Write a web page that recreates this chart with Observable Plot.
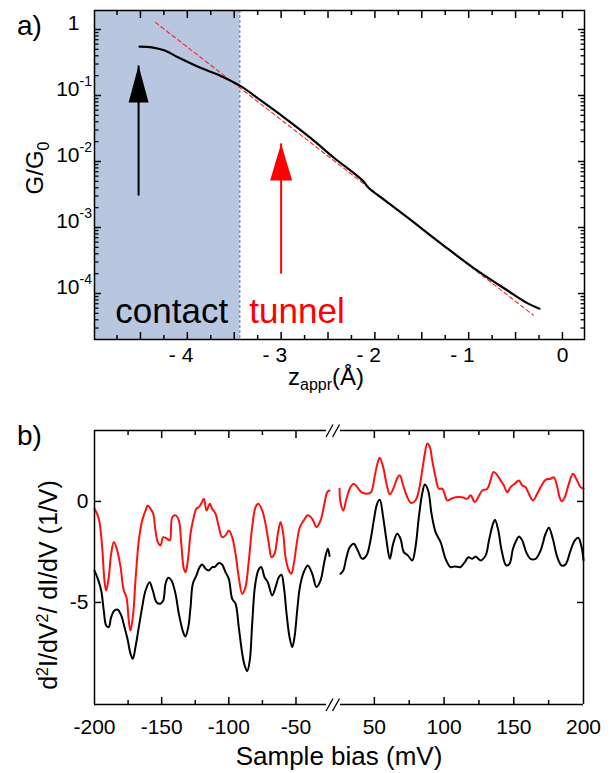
<!DOCTYPE html>
<html><head><meta charset="utf-8">
<script src="https://cdn.jsdelivr.net/npm/d3@7"></script>
<script src="https://cdn.jsdelivr.net/npm/@observablehq/plot@0.6"></script>
<style>
body{margin:0;background:#fff;}
#wrap{position:relative;width:613px;height:773px;overflow:hidden;}
#wrap svg{display:block;}
</style></head><body><div id="wrap"></div>
<script>
// ---------------- Panel a data ----------------
const zCurve = [-4.51,-4.38,-4.24,-4.10,-3.86,-3.65,-3.44,-3.21,-2.97,-2.68,-2.44,-2.13,-2.06,-1.90,-1.65,-1.27,-0.95,-0.59,-0.37,-0.245];
const gCurve = [0.55,0.537,0.48,0.38,0.263,0.20,0.141,0.083,0.0468,0.0224,0.0115,0.00513,0.00389,0.00263,0.00141,5.37e-4,2.45e-4,1.12e-4,7.08e-5,5.89e-5];
const zFit = [-4.34, -0.31];
const gFit = [1.28, 4.7e-5];
const zContactEdge = -3.44;
const zArrowBlack = -4.52, gArrowBlack = [0.00305, 0.285];
const zArrowRed = -3.0, gArrowRed = [2.0e-4, 0.0188];
const regionLabels = ["contact", "tunnel"];
const regionLabelZ = [-4.768, -3.339];
const regionLabelG = 5.2e-5;
const zTickLabels = [-4, -3, -2, -1, 0];
const zTicksMajor = [-4.5, -4, -3.5, -3, -2.5, -2, -1.5, -1, -0.5, 0];
const zTicksMinor = [-4.75, -4.25, -3.75, -3.25, -2.75, -2.25, -1.75, -1.25, -0.75, -0.25];
const gDecades = [1e-4, 1e-3, 1e-2, 1e-1, 1];
const gMinor = [3e-5,4e-5,5e-5,6e-5,7e-5,8e-5,9e-5,
  2e-4,3e-4,4e-4,5e-4,6e-4,7e-4,8e-4,9e-4,
  2e-3,3e-3,4e-3,5e-3,6e-3,7e-3,8e-3,9e-3,
  0.02,0.03,0.04,0.05,0.06,0.07,0.08,0.09,
  0.2,0.3,0.4,0.5,0.6,0.7,0.8,0.9];
const gLabelVals = [1, 0.1, 0.01, 0.001, 0.0001];
const gLabelBase = ["1", "10", "10", "10", "10"];
const gLabelExp = ["", "-1", "-2", "-3", "-4"];

// ---------------- Panel b data ----------------
const biasRedL = [-200,-196.8,-194.3,-192.6,-191.3,-189.4,-187.6,-185.6,-183.1,-180.6,-178.2,-176.2,-174.5,-173.2,-171.2,-169.5,-167.0,-164.5,-162.0,-160.3,-158.3,-156.3,-154.6,-152.9,-150.9,-148.8,-145.9,-143.9,-142.1,-139.7,-137.2,-135.4,-133.5,-132.2,-130.5,-128.5,-126.1,-124.1,-122.3,-120.6,-118.6,-116.6,-114.1,-112.4,-109.9,-107.4,-105.0,-102.5,-100.0,-97.5,-95.0,-92.6,-90.0,-87.6,-85.1,-82.6,-80.1,-78.1,-75.1,-72.7,-70.2,-68.2,-66.0,-63.5,-61.5,-59.5,-57.8,-55.3,-53.5,-51.6,-49.1,-47.1,-44.2,-41.2,-37.9,-34.7,-31.7,-29.3,-26.7,-25];
const dRedL = [-0.35,-0.86,-2.26,-3.91,-4.41,-3.75,-2.59,-2.01,-2.43,-3.25,-4.41,-4.74,-5.89,-6.39,-5.56,-3.91,-1.93,-0.94,-0.45,-0.20,-0.36,-0.61,-1.44,-2.01,-2.18,-1.77,-1.85,-1.93,-0.78,-0.69,-0.94,-2.09,-3.33,-3.50,-2.92,-1.60,-0.78,-0.36,-0.28,-0.11,0.13,-0.45,-0.11,-0.36,-0.61,-1.27,-1.77,-1.68,-1.44,-1.77,-2.59,-3.75,-4.57,-4.24,-2.92,-1.27,-0.28,-0.11,-0.45,-1.10,-2.09,-2.76,-2.59,-1.60,-1.02,-1.60,-2.76,-3.42,-3.58,-3.08,-1.93,-1.27,-0.94,-0.69,-0.86,-1.27,-0.94,-0.28,0.46,0.54];
const biasRedR = [25,25.7,27.7,30.0,32.9,35.3,37.7,40.6,44.9,47.7,50.1,52.5,53.9,56.3,58.7,61.1,64.0,66.8,68.3,70.7,73.6,76.4,79.5,81.9,84.3,86.2,87.9,89.8,91.5,93.9,96.2,98.7,100.3,102.3,105.1,108.2,113.0,116.6,119.0,122.1,124.5,127.4,131.0,133.3,135.3,137.4,140.5,142.9,145.3,147.7,150.8,153.6,156.1,158.4,160.8,163.7,166.8,169.9,172.8,176.4,178.7,181.2,182.8,184.3,186.6,189.5,192.4,194.8,197.9,200];
const dRedR = [0.63,-0.03,-0.45,0.13,0.71,0.88,0.71,0.46,0.38,0.46,1.20,1.95,2.16,1.70,0.88,0.35,0.71,1.20,1.29,0.79,0.21,-0.08,0.05,0.54,1.53,2.36,2.86,2.69,2.03,1.20,0.63,0.63,0.38,0.05,0.13,0.21,0.21,0.13,0.30,-0.03,0.21,0.54,0.63,1.04,1.45,1.37,1.04,0.79,0.46,0.71,0.88,1.04,0.79,0.71,0.38,0.05,0.38,0.79,1.07,1.12,1.20,0.71,0.21,0.01,0.21,0.88,1.37,1.12,0.71,0.63];
const biasBlkL = [-200,-197.5,-195.0,-193.1,-191.3,-189.4,-187.6,-185.1,-182.7,-180.1,-177.7,-175.2,-173.2,-171.5,-169.5,-167.0,-164.5,-162.0,-159.0,-156.6,-153.8,-150.9,-148.8,-147.1,-145.1,-142.7,-139.7,-137.2,-134.0,-132.3,-130.2,-128.5,-126.8,-124.1,-122.3,-119.9,-117.3,-114.9,-112.4,-110.6,-107.4,-105.0,-102.5,-100.0,-97.5,-95.0,-92.6,-90.0,-88.2,-86.3,-84.4,-82.6,-80.6,-78.1,-75.9,-73.4,-71.0,-67.7,-65.2,-62.8,-60.8,-59.0,-57.0,-54.8,-52.8,-51.1,-49.1,-47.1,-44.2,-41.2,-37.9,-34.7,-31.7,-28.7,-26.3,-25];
const dBlkL = [-3.42,-3.83,-4.41,-5.40,-6.14,-6.22,-5.73,-5.40,-5.36,-5.64,-6.22,-6.88,-7.54,-7.79,-7.21,-6.22,-5.23,-4.41,-4.00,-4.41,-4.99,-5.06,-4.90,-4.07,-3.78,-3.91,-4.57,-5.56,-6.47,-6.68,-6.22,-5.23,-4.07,-3.66,-3.33,-3.12,-3.33,-3.42,-3.25,-3.25,-3.05,-3.12,-3.50,-3.83,-4.82,-5.06,-6.22,-7.54,-8.12,-8.40,-7.87,-6.05,-4.24,-3.42,-3.25,-3.75,-4.00,-4.65,-4.24,-3.75,-3.63,-4.24,-5.56,-6.72,-7.21,-6.72,-5.40,-4.24,-3.50,-3.17,-3.58,-4.24,-3.91,-2.92,-2.34,-2.70];
const biasBlkR = [25.7,27.7,30.0,32.4,35.3,38.1,41.3,44.4,47.2,49.6,52.0,53.9,56.3,58.7,61.1,63.5,66.4,68.8,71.1,74.0,77.2,79.5,81.9,84.3,86.2,88.6,91.0,93.9,97.5,101.1,104.6,107.5,110.6,111.8,114.9,117.4,120.2,122.6,126.2,129.8,132.2,135.1,136.5,138.9,141.3,144.6,147.0,149.4,151.8,153.7,156.1,158.9,162.0,165.6,169.2,172.8,175.2,178.0,181.2,184.3,187.1,190.7,193.8,196.2,198.6,200];
const dBlkR = [-3.58,-3.42,-2.76,-2.26,-2.09,-2.43,-2.84,-2.67,-1.93,-0.94,-0.11,0.08,-0.78,-1.93,-2.84,-2.09,-1.60,-1.85,-2.51,-2.67,-2.92,-2.26,-0.78,0.38,0.84,0.54,-0.61,-1.52,-2.01,-2.84,-3.25,-3.22,-3.25,-3.25,-3.00,-2.76,-2.84,-2.72,-2.92,-2.67,-1.93,-1.10,-0.91,-1.44,-2.43,-3.17,-3.08,-2.34,-1.93,-1.73,-1.93,-2.51,-2.84,-2.84,-2.43,-1.60,-1.30,-1.85,-2.76,-3.17,-3.12,-2.43,-1.93,-1.80,-2.26,-2.92];
const biasTickLabels = [-200, -150, -100, -50, 50, 100, 150, 200];
const biasTicksMajor = [-150, -100, -50, 50, 100, 150];
const biasTicksMinor = [-175, -125, -75, 75, 125, 175];
const dTicks = [0, -5];
const biasBreak = [-25, 25];   // axis break between these bias values

// ---------------- helpers ----------------
const FONT = '"Liberation Sans", Arial, Helvetica, sans-serif';
const headBlack = {draw(c){ c.moveTo(0,0); c.lineTo(-10,37); c.lineTo(10,37); c.closePath(); }};
const headRed = {draw(c){ c.moveTo(0,0); c.lineTo(-11,37); c.lineTo(11,37); c.closePath(); }};
const slashes = {draw(c){ c.moveTo(-8.5,6.5); c.lineTo(-1.5,-6); c.moveTo(-2,6.5); c.lineTo(5,-6); }};
const blank = () => "";
// broken-axis transform: the [-25, 25] mV gap is squeezed to a narrow band
const gapWidth = 7.4, rightStretch = 1.038;
const breakX = v => v <= biasBreak[0] ? v - biasBreak[0]
  : v >= biasBreak[1] ? gapWidth + (v - biasBreak[1]) * rightStretch
  : (v - biasBreak[0]) * gapWidth / (biasBreak[1] - biasBreak[0]);

// ---------------- Panel a ----------------
const zDomain = [-4.99, 0.235];
const gDomain = [2.01e-5, 1.94];
const A = Plot.plot({
  width: 613, height: 395,
  marginLeft: 94, marginRight: 29, marginTop: 10, marginBottom: 56,
  style: {fontFamily: FONT, fontSize: "21px", background: "white", color: "black"},
  x: {domain: zDomain, axis: null, label: null},
  y: {type: "log", domain: gDomain, axis: null, label: null},
  marks: [
    Plot.rect([0], {x1: zDomain[0], x2: zContactEdge, y1: gDomain[0], y2: gDomain[1], fill: "#b8c6e0"}),
    Plot.ruleX([zContactEdge], {stroke: "#4f63b3", strokeWidth: 1, strokeDasharray: "3,2"}),
    Plot.line(zFit, {x: zFit, y: gFit, stroke: "#ff2020", strokeWidth: 1.1, strokeDasharray: "4,3"}),
    Plot.line(zCurve, {x: zCurve, y: gCurve, stroke: "black", strokeWidth: 2.2, curve: "catmull-rom"}),
    Plot.link([0], {x1: zArrowBlack, x2: zArrowBlack, y1: gArrowBlack[0], y2: gArrowBlack[1], stroke: "black", strokeWidth: 2}),
    Plot.dot([0], {x: zArrowBlack, y: gArrowBlack[1], symbol: headBlack, fill: "black", stroke: "none"}),
    Plot.link([0], {x1: zArrowRed, x2: zArrowRed, y1: gArrowRed[0], y2: gArrowRed[1], stroke: "red", strokeWidth: 2}),
    Plot.dot([0], {x: zArrowRed, y: gArrowRed[1], symbol: headRed, fill: "red", stroke: "none"}),
    Plot.text([0], {x: regionLabelZ[0], y: regionLabelG, text: [regionLabels[0]], fill: "black", fontSize: 35, textAnchor: "start"}),
    Plot.text([0], {x: regionLabelZ[1], y: regionLabelG, text: [regionLabels[1]], fill: "red", fontSize: 35, textAnchor: "start"}),
    ...["bottom", "top"].flatMap(a => [
      Plot.axisX(zTicksMajor, {anchor: a, tickSize: -7, tickFormat: blank, label: null, strokeWidth: 1.5}),
      Plot.axisX(zTicksMinor, {anchor: a, tickSize: -4, tickFormat: blank, label: null, strokeWidth: 1.5})
    ]),
    Plot.axisX(zTickLabels, {anchor: "bottom", tickSize: 0, tickPadding: 8, textAnchor: "end", dx: 6, fontSize: 21, label: null,
      tickFormat: d => d === 0 ? "0" : "- " + Math.abs(d)}),
    ...["left", "right"].flatMap(a => [
      Plot.axisY(gDecades, {anchor: a, tickSize: -7, tickFormat: blank, label: null, strokeWidth: 1.5}),
      Plot.axisY(gMinor, {anchor: a, tickSize: -4.5, tickFormat: blank, label: null, strokeWidth: 1.3})
    ]),
    Plot.text(gLabelVals, {y: gLabelVals, text: gLabelBase, frameAnchor: "left", textAnchor: "end", dx: -15, dy: -6, fontSize: 21}),
    Plot.text(gLabelVals, {y: gLabelVals, text: gLabelExp, frameAnchor: "left", textAnchor: "start", dx: -15, dy: -14, fontSize: 14}),
    Plot.frame({stroke: "black", strokeWidth: 1.5})
  ]
});

// ---------------- Panel b ----------------
const dDomain = [-10.05, 3.51];
const B = Plot.plot({
  width: 613, height: 378,
  marginLeft: 94, marginRight: 30, marginTop: 35, marginBottom: 69,
  style: {fontFamily: FONT, fontSize: "21px", background: "white", color: "black"},
  x: {transform: breakX, domain: [breakX(-200), breakX(200)], axis: null, label: null},
  y: {domain: dDomain, axis: null, label: null},
  marks: [
    Plot.line(biasBlkL, {x: biasBlkL, y: dBlkL, stroke: "black", strokeWidth: 2, curve: "catmull-rom"}),
    Plot.line(biasBlkR, {x: biasBlkR, y: dBlkR, stroke: "black", strokeWidth: 2, curve: "catmull-rom"}),
    Plot.line(biasRedL, {x: biasRedL, y: dRedL, stroke: "#ff1010", strokeWidth: 2, curve: "catmull-rom"}),
    Plot.line(biasRedR, {x: biasRedR, y: dRedR, stroke: "#ff1010", strokeWidth: 2, curve: "catmull-rom"}),
    Plot.ruleX([-200, 200], {stroke: "black", strokeWidth: 1.5}),
    Plot.ruleY([dDomain[0], dDomain[1]], {x1: -200, x2: -27.3, stroke: "black", strokeWidth: 1.5}),
    Plot.ruleY([dDomain[0], dDomain[1]], {x1: 25.7, x2: 200, stroke: "black", strokeWidth: 1.5}),
    Plot.dot(dDomain, {x: [0, 0], y: dDomain, symbol: slashes, stroke: "black", fill: "none", strokeWidth: 1.3}),
    ...["bottom", "top"].flatMap(a => [
      Plot.axisX(biasTicksMajor, {anchor: a, tickSize: -7, tickFormat: blank, label: null, strokeWidth: 1.5}),
      Plot.axisX(biasTicksMinor, {anchor: a, tickSize: -4, tickFormat: blank, label: null, strokeWidth: 1.5})
    ]),
    Plot.axisX(biasTickLabels, {anchor: "bottom", tickSize: 0, tickPadding: 15, fontSize: 21, label: null, tickFormat: d => String(d)}),
    ...["left", "right"].map(a =>
      Plot.axisY(dTicks, {anchor: a, tickSize: -7, tickFormat: blank, label: null, strokeWidth: 1.5})),
    Plot.axisY(dTicks, {anchor: "left", tickSize: 0, tickPadding: 6, fontSize: 21, label: null, tickFormat: d => String(d)})
  ]
});

// ---------------- titles / axis labels (real SVG text) ----------------
function addText(svg, x, y, rot, parts, size, anchor = "middle") {
  const t = d3.select(svg).append("text")
    .attr("transform", `translate(${x},${y})` + (rot ? ` rotate(${rot})` : ""))
    .attr("text-anchor", anchor)
    .attr("font-family", FONT).attr("font-size", size).attr("fill", "black");
  for (const p of parts) {
    const s = t.append("tspan").text(p.t);
    if (p.size) s.attr("font-size", p.size);
    if (p.dy) s.attr("dy", p.dy);
  }
  return t;
}
addText(A, 17, 35, 0, [{t: "a)"}], 28, "start");
addText(A, 43, 168, -90, [{t: "G/G"}, {t: "0", size: 16, dy: 6}], 24);
addText(A, 326, 385, 0, [{t: "z"}, {t: "appr", size: 16, dy: 5}, {t: "(Å)", dy: -5}], 24);

addText(B, 17, 50, 0, [{t: "b)"}], 28, "start");
addText(B, 57, 190, -90, [{t: "d"}, {t: "2", size: 16, dy: -9}, {t: "I/dV", dy: 9}, {t: "2", size: 16, dy: -9}, {t: "/ dI/dV (1/V)", dy: 9}], 25);
addText(B, 339, 370, 0, [{t: "Sample bias (mV)"}], 26);

const wrap = document.getElementById("wrap");
wrap.appendChild(A);
wrap.appendChild(B);
</script>
</body></html>
